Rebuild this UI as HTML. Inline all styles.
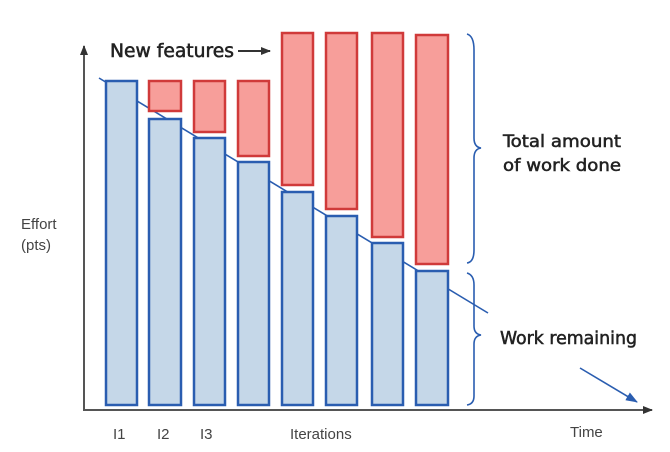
<!DOCTYPE html>
<html><head><meta charset="utf-8"><style>
html,body{margin:0;padding:0;background:#fff;}
svg{display:block;}
.hw{font-family:"DejaVu Sans Condensed","DejaVu Sans",sans-serif;fill:#222;stroke:#222;stroke-width:0.5;}
.lb{font-family:"Liberation Sans",sans-serif;fill:#444;font-size:15px;}
</style></head><body>
<svg width="670" height="452" viewBox="0 0 670 452" xmlns="http://www.w3.org/2000/svg">
<defs>
<marker id="ah" markerWidth="10" markerHeight="8" refX="9" refY="4" orient="auto" markerUnits="userSpaceOnUse"><path d="M0,0 L10,4 L0,8 Z" fill="#333"/></marker>
<marker id="ab" markerWidth="12" markerHeight="9" refX="11" refY="4.5" orient="auto" markerUnits="userSpaceOnUse"><path d="M0,0 L12,4.5 L0,9 Z" fill="#2a5db0"/></marker>
</defs>
<line x1="84" y1="411" x2="84" y2="46" stroke="#555" stroke-width="2" marker-end="url(#ah)"/>
<line x1="84" y1="410" x2="652" y2="410" stroke="#555" stroke-width="2" marker-end="url(#ah)"/>
<line x1="99" y1="78" x2="488" y2="313" stroke="#2a5db0" stroke-width="1.6"/>
<g stroke="#2a5db0" stroke-width="2.5" fill="#c5d7e8">
<rect x="106" y="81" width="31" height="324"/>
<rect x="149" y="119" width="32" height="286"/>
<rect x="194" y="138" width="31" height="267"/>
<rect x="238" y="162" width="31" height="243"/>
<rect x="282" y="192" width="31" height="213"/>
<rect x="326" y="216" width="31" height="189"/>
<rect x="372" y="243" width="31" height="162"/>
<rect x="416" y="271" width="32" height="134"/>
</g>
<g stroke="#d03a3a" stroke-width="2.5" fill="#f79e9a">
<rect x="149" y="81" width="32" height="30"/>
<rect x="194" y="81" width="31" height="51"/>
<rect x="238" y="81" width="31" height="75"/>
<rect x="282" y="33" width="31" height="152"/>
<rect x="326" y="33" width="31" height="176"/>
<rect x="372" y="33" width="31" height="204"/>
<rect x="416" y="35" width="32" height="229"/>
</g>
<path d="M467,34 Q474,36 474,50 L474,138 Q474,147 481,148 Q474,149 474,158 L474,250 Q474,262 467,263" fill="none" stroke="#2a5db0" stroke-width="1.6"/>
<path d="M467,273 Q474,275 474,285 L474,326 Q474,334 481,335 Q474,336 474,344 L474,396 Q474,404 467,405" fill="none" stroke="#2a5db0" stroke-width="1.6"/>
<line x1="580" y1="368" x2="637" y2="402" stroke="#2a5db0" stroke-width="1.6" marker-end="url(#ab)"/>
<text class="hw" x="110" y="57" font-size="19" textLength="124" lengthAdjust="spacingAndGlyphs">New features</text>
<line x1="238" y1="51" x2="270" y2="51" stroke="#333" stroke-width="2" marker-end="url(#ah)"/>
<text class="hw" x="503" y="147" font-size="17" textLength="118" lengthAdjust="spacingAndGlyphs">Total amount</text>
<text class="hw" x="503" y="171" font-size="17" textLength="118" lengthAdjust="spacingAndGlyphs">of work done</text>
<text class="hw" x="500" y="344" font-size="18" textLength="137" lengthAdjust="spacingAndGlyphs">Work remaining</text>
<text class="lb" x="21" y="229">Effort</text>
<text class="lb" x="21" y="250">(pts)</text>
<text class="lb" x="113" y="439">I1</text>
<text class="lb" x="157" y="439">I2</text>
<text class="lb" x="200" y="439">I3</text>
<text class="lb" x="290" y="439">Iterations</text>
<text class="lb" x="570" y="437">Time</text>
</svg>
</body></html>
